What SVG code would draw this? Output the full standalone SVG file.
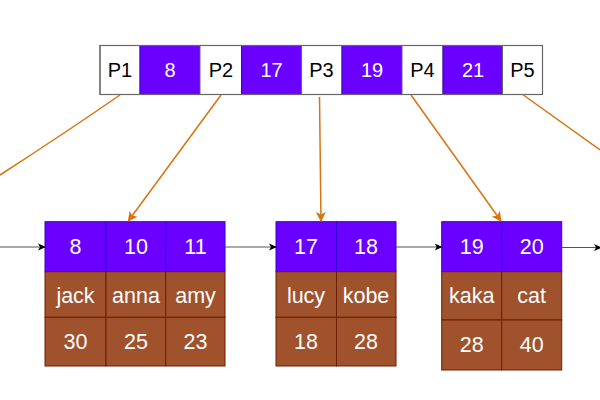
<svg xmlns="http://www.w3.org/2000/svg" width="600" height="400" viewBox="0 0 600 400">
<style>
text{font-family:"Liberation Sans",Arial,sans-serif;font-size:21.5px;text-anchor:middle;dominant-baseline:central}
#root text{font-size:20px}
.p{fill:#ffffff;stroke:#666666;stroke-width:1}
.k{fill:#6a00ff;stroke:#3700cc;stroke-width:1}
.b{fill:#a0522d;stroke:#6d1f00;stroke-width:1}
.w{fill:#ffffff}
.d{fill:#000000}
.o{fill:none;stroke:#d9720f;stroke-width:1.5}
.g{fill:none;stroke:#555555;stroke-width:1}
</style>
<defs>
<marker id="ao" markerWidth="10" markerHeight="10" refX="9" refY="5" orient="auto" markerUnits="userSpaceOnUse">
<path d="M0,0 L10,5 L0,10 L2.5,5 Z" fill="#d9720f"/>
</marker>
<marker id="ag" markerWidth="8" markerHeight="8" refX="7" refY="4" orient="auto" markerUnits="userSpaceOnUse">
<path d="M0,0.5 L8,4 L0,7.5 L2,4 Z" fill="#000000"/>
</marker>
</defs>
<g id="root">
<rect class="p" x="100" y="45.5" width="40" height="49"/>
<rect class="k" x="140" y="45.5" width="60" height="49"/>
<rect class="p" x="200" y="45.5" width="41.5" height="49"/>
<rect class="k" x="241.5" y="45.5" width="60" height="49"/>
<rect class="p" x="301.5" y="45.5" width="40.5" height="49"/>
<rect class="k" x="342" y="45.5" width="60" height="49"/>
<rect class="p" x="402" y="45.5" width="41" height="49"/>
<rect class="k" x="443" y="45.5" width="59.5" height="49"/>
<rect class="p" x="502.5" y="45.5" width="40" height="49"/>
<rect x="100" y="45.5" width="442.5" height="49" fill="none" stroke="#666666" stroke-width="1.2"/>
<text class="d" x="120" y="70">P1</text>
<text class="w" x="170" y="70">8</text>
<text class="d" x="221" y="70">P2</text>
<text class="w" x="271.5" y="70">17</text>
<text class="d" x="321.5" y="70">P3</text>
<text class="w" x="372" y="70">19</text>
<text class="d" x="422.5" y="70">P4</text>
<text class="w" x="473" y="70">21</text>
<text class="d" x="522.5" y="70">P5</text>
</g>
<g id="leaf1">
<rect class="k" x="45" y="221.7" width="61" height="50"/>
<rect class="k" x="106" y="221.7" width="59.7" height="50"/>
<rect class="k" x="165.7" y="221.7" width="59.3" height="50"/>
<rect class="b" x="45" y="271.7" width="61" height="45.6"/>
<rect class="b" x="106" y="271.7" width="59.7" height="45.6"/>
<rect class="b" x="165.7" y="271.7" width="59.3" height="45.6"/>
<rect class="b" x="45" y="317.3" width="61" height="48.7"/>
<rect class="b" x="106" y="317.3" width="59.7" height="48.7"/>
<rect class="b" x="165.7" y="317.3" width="59.3" height="48.7"/>
<text class="w" x="75.5" y="247">8</text>
<text class="w" x="136" y="247">10</text>
<text class="w" x="195.5" y="247">11</text>
<text class="w" x="75.5" y="296">jack</text>
<text class="w" x="136" y="296">anna</text>
<text class="w" x="195.5" y="296">amy</text>
<text class="w" x="75.5" y="342">30</text>
<text class="w" x="136" y="342">25</text>
<text class="w" x="195.5" y="342">23</text>
</g>
<g id="leaf2">
<rect class="k" x="276" y="221.7" width="60.5" height="50"/>
<rect class="k" x="336.5" y="221.7" width="59.5" height="50"/>
<rect class="b" x="276" y="271.7" width="60.5" height="45.6"/>
<rect class="b" x="336.5" y="271.7" width="59.5" height="45.6"/>
<rect class="b" x="276" y="317.3" width="60.5" height="48.7"/>
<rect class="b" x="336.5" y="317.3" width="59.5" height="48.7"/>
<text class="w" x="306" y="247">17</text>
<text class="w" x="366" y="247">18</text>
<text class="w" x="306" y="296">lucy</text>
<text class="w" x="366" y="296">kobe</text>
<text class="w" x="306" y="342">18</text>
<text class="w" x="366" y="342">28</text>
</g>
<g id="leaf3">
<rect class="k" x="441.7" y="221.7" width="60" height="50"/>
<rect class="k" x="501.7" y="221.7" width="60" height="50"/>
<rect class="b" x="441.7" y="271.7" width="60" height="48.3"/>
<rect class="b" x="501.7" y="271.7" width="60" height="48.3"/>
<rect class="b" x="441.7" y="320" width="60" height="50"/>
<rect class="b" x="501.7" y="320" width="60" height="50"/>
<text class="w" x="471.7" y="247">19</text>
<text class="w" x="531.7" y="247">20</text>
<text class="w" x="471.7" y="296">kaka</text>
<text class="w" x="531.7" y="296">cat</text>
<text class="w" x="471.7" y="345">28</text>
<text class="w" x="531.7" y="345">40</text>
</g>
<g id="connectors">
<path class="o" d="M120,95 Q65,133 0,175"/>
<path class="o" d="M221,95 L128.3,221" marker-end="url(#ao)"/>
<path class="o" d="M319.5,97 L321,221" marker-end="url(#ao)"/>
<path class="o" d="M411,95 L501,221" marker-end="url(#ao)"/>
<path class="o" d="M522.7,94.5 L600,150"/>
<path class="g" d="M0,247 L45,247" marker-end="url(#ag)"/>
<path class="g" d="M225,247 L276,247" marker-end="url(#ag)"/>
<path class="g" d="M396,247 L441.7,247" marker-end="url(#ag)"/>
<path class="g" d="M561.7,247.5 L601,247.5" marker-end="url(#ag)"/>
</g>
</svg>
